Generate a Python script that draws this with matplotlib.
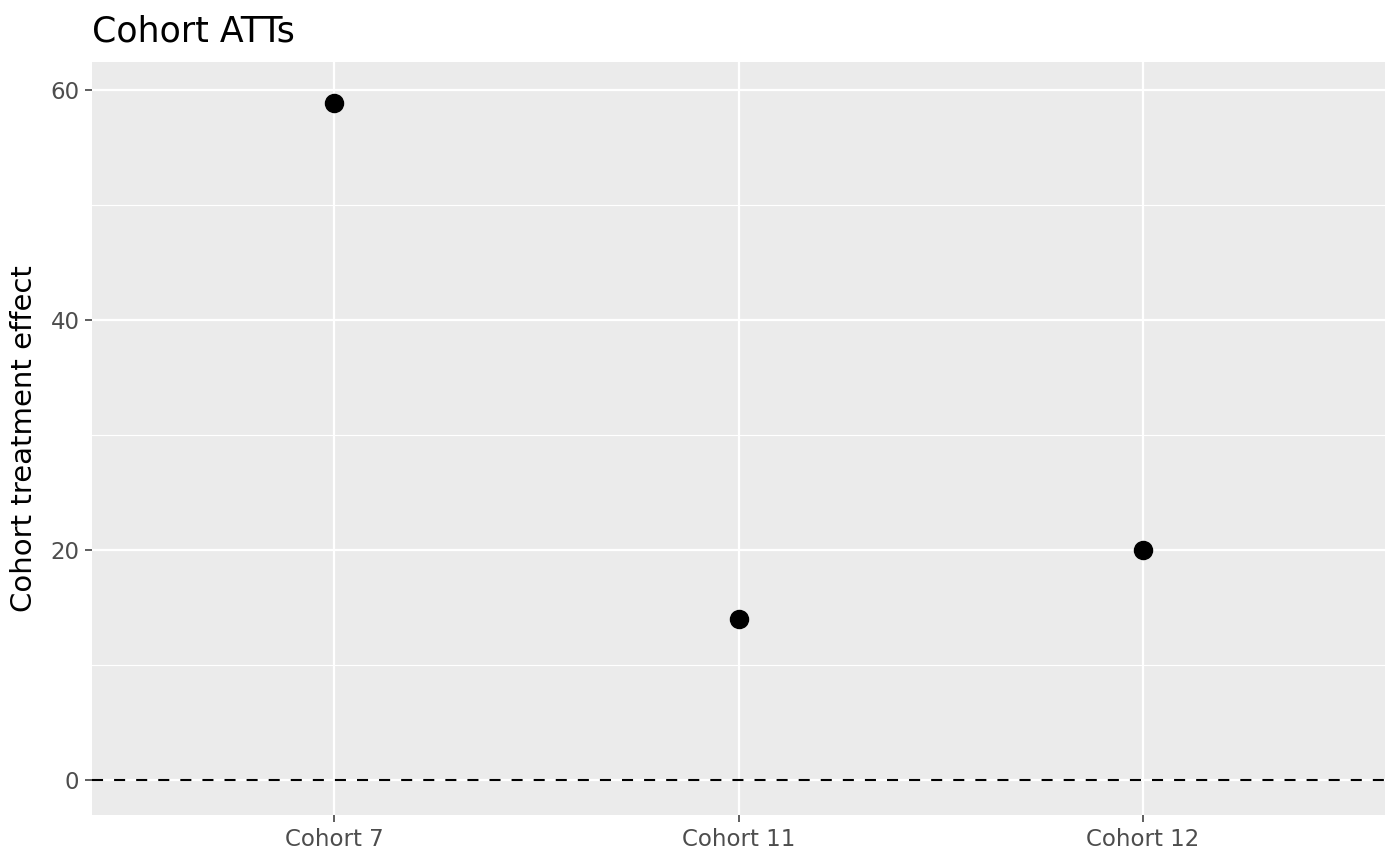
import numpy as np
import matplotlib.pyplot as plt

cohorts = ["Cohort 7", "Cohort 11", "Cohort 12"]
att = [58.9, 14.0, 20.0]

fig = plt.figure(figsize=(14, 8.65), dpi=100)
ax = fig.add_axes([0.0657, 0.0578, 0.9236, 0.8705])
ax.set_facecolor("#EBEBEB")

x = np.arange(1, len(cohorts) + 1)

ax.set_xlim(0.4, 3.6)
ax.set_ylim(-3.04, 62.43)

# ggplot-like grid
ax.set_yticks([0, 20, 40, 60])
ax.set_yticks([10, 30, 50], minor=True)
ax.set_xticks(x)
ax.set_xticklabels(cohorts)
ax.grid(which="major", color="white", linewidth=1.6)
ax.grid(which="minor", axis="y", color="white", linewidth=0.8)
ax.set_axisbelow(True)
for s in ax.spines.values():
    s.set_visible(False)

ax.tick_params(which="major", length=5, width=1.1, color="#333333",
               labelcolor="#4D4D4D", labelsize=16.5, pad=4)
ax.tick_params(which="minor", length=0)

ax.axhline(0, color="black", linestyle=(0, (5.3, 5.3)), linewidth=1.5, zorder=2)
ax.plot(x, att, "o", color="black", markersize=13, zorder=3)

ax.set_ylabel("Cohort treatment effect", fontsize=21, labelpad=9)
ax.set_title("Cohort ATTs", loc="left", fontsize=25, pad=15)

fig.savefig("out.png", dpi=100)
